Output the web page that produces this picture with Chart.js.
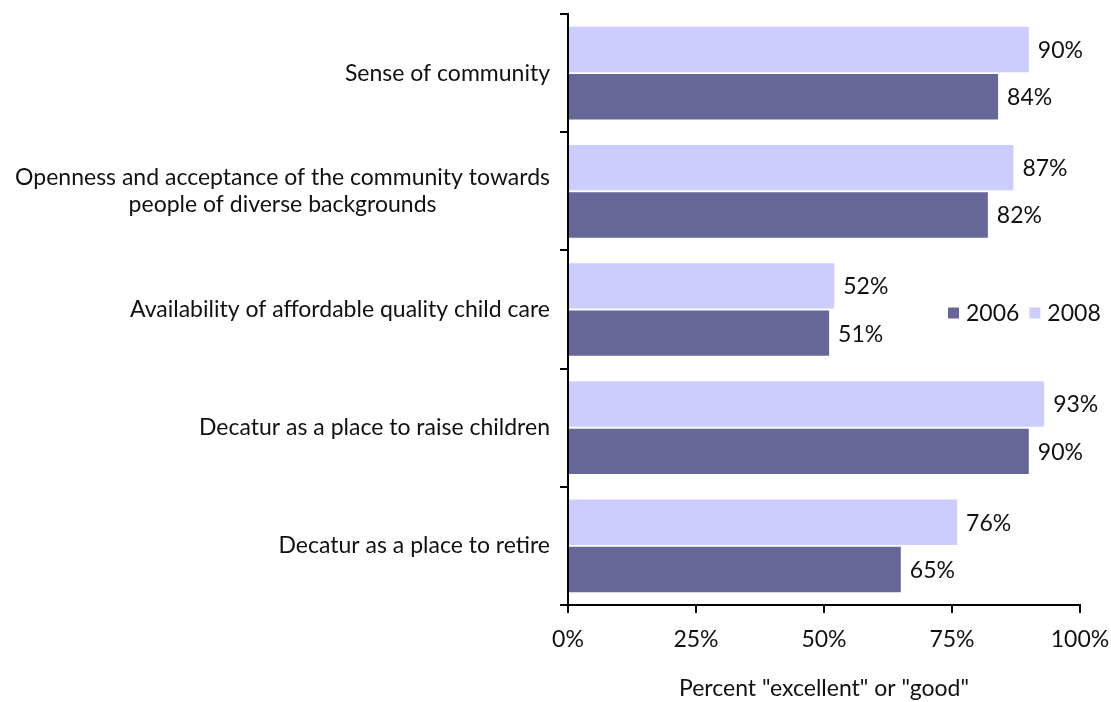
<!DOCTYPE html>
<html lang="en">
<head>
<meta charset="UTF-8">
<title>Community ratings 2006 and 2008</title>
<script src="https://cdn.jsdelivr.net/npm/chart.js"></script>
<style>
  html, body { margin: 0; padding: 0; background: #fff; }
  #wrap { width: 1111px; height: 702px; }
</style>
</head>
<body>
<div id="wrap"><canvas id="ratingsChart"></canvas></div>
<script>
// survey items, one label per row (multi-line labels as arrays)
const categories = [
  ["Sense of community"],
  ["Openness and acceptance of the community towards", "people of diverse backgrounds"],
  ["Availability of affordable quality child care"],
  ["Decatur as a place to raise children"],
  ["Decatur as a place to retire"]
];
const values2008 = [90, 87, 52, 93, 76];
const values2006 = [84, 82, 51, 90, 65];
const xTicks = [0, 25, 50, 75, 100];
const axisTitle = 'Percent "excellent" or "good"';

const FONT = "Lato, 'Open Sans', sans-serif";
const FONT_SIZE = 23;
const TEXT = "#111";
const DARK = "#666699";
const LIGHT = "#ccccff";

// percent label at the end of every bar
const valueLabels = {
  id: "valueLabels",
  afterDatasetsDraw(chart) {
    const ctx = chart.ctx;
    ctx.save();
    ctx.font = FONT_SIZE + "px " + FONT;
    ctx.fillStyle = TEXT;
    ctx.textAlign = "left";
    ctx.textBaseline = "middle";
    chart.data.datasets.forEach((ds, i) => {
      chart.getDatasetMeta(i).data.forEach((bar, j) => {
        ctx.fillText(ds.data[j] + "%", bar.x + 9, bar.y + 1);
      });
    });
    ctx.restore();
  }
};

// row labels: block right-aligned to the axis, lines centred inside the block
const rowLabels = {
  id: "rowLabels",
  afterDraw(chart) {
    const ctx = chart.ctx;
    const y = chart.scales.y;
    const right = chart.chartArea.left - 18;
    const lineH = 27;
    ctx.save();
    ctx.font = FONT_SIZE + "px " + FONT;
    ctx.fillStyle = TEXT;
    ctx.textAlign = "center";
    ctx.textBaseline = "middle";
    categories.forEach((lines, i) => {
      const widest = Math.max(...lines.map(l => ctx.measureText(l).width));
      const cx = right - widest / 2;
      const cy = y.getPixelForValue(i) - (lines.length - 1) * lineH / 2;
      lines.forEach((l, k) => ctx.fillText(l, cx, cy + k * lineH));
    });
    ctx.restore();
  }
};

// small legend sitting inside the plot on the right
const sideLegend = {
  id: "sideLegend",
  afterDraw(chart) {
    const ctx = chart.ctx;
    const items = chart.data.datasets.slice().reverse();
    let x = chart.width - 163;
    const y = (chart.chartArea.top + chart.chartArea.bottom) / 2 + 4;
    ctx.save();
    ctx.font = FONT_SIZE + "px " + FONT;
    ctx.textBaseline = "middle";
    ctx.textAlign = "left";
    items.forEach(ds => {
      ctx.fillStyle = ds.backgroundColor;
      ctx.fillRect(x, y - 6, 11, 11);
      ctx.fillStyle = TEXT;
      ctx.fillText(ds.label, x + 18, y);
      x += 18 + ctx.measureText(ds.label).width + 10;
    });
    ctx.restore();
  }
};

new Chart(document.getElementById("ratingsChart"), {
  type: "bar",
  data: {
    labels: categories,
    datasets: [
      { label: "2008", data: values2008, backgroundColor: LIGHT },
      { label: "2006", data: values2006, backgroundColor: DARK }
    ]
  },
  options: {
    indexAxis: "y",
    responsive: true,
    maintainAspectRatio: false,
    animation: false,
    categoryPercentage: 0.8,
    barPercentage: 0.96,
    layout: { padding: { top: 14, right: 31, left: 0, bottom: 0 } },
    plugins: {
      legend: { display: false },
      tooltip: { enabled: false }
    },
    scales: {
      x: {
        min: 0,
        max: 100,
        afterBuildTicks: s => { s.ticks = xTicks.map(v => ({ value: v })); },
        afterFit: s => { s.height = 97; s.paddingLeft = 0; s.paddingRight = 0; },
        border: { color: "#000", width: 2 },
        grid: { drawOnChartArea: false, drawTicks: true, tickLength: 8, color: "#000", lineWidth: 2 },
        ticks: {
          padding: 13,
          color: TEXT,
          font: { family: FONT, size: FONT_SIZE },
          callback: v => v + "%"
        },
        title: {
          display: true,
          text: axisTitle,
          color: TEXT,
          font: { family: FONT, size: FONT_SIZE },
          padding: { top: 0, bottom: 0 }
        }
      },
      y: {
        afterFit: s => { s.width = 568; },
        border: { color: "#000", width: 2 },
        grid: { drawOnChartArea: false, drawTicks: true, tickLength: 8, color: "#000", lineWidth: 2, offset: true },
        ticks: { display: false }
      }
    }
  },
  plugins: [valueLabels, rowLabels, sideLegend]
});
</script>
</body>
</html>
